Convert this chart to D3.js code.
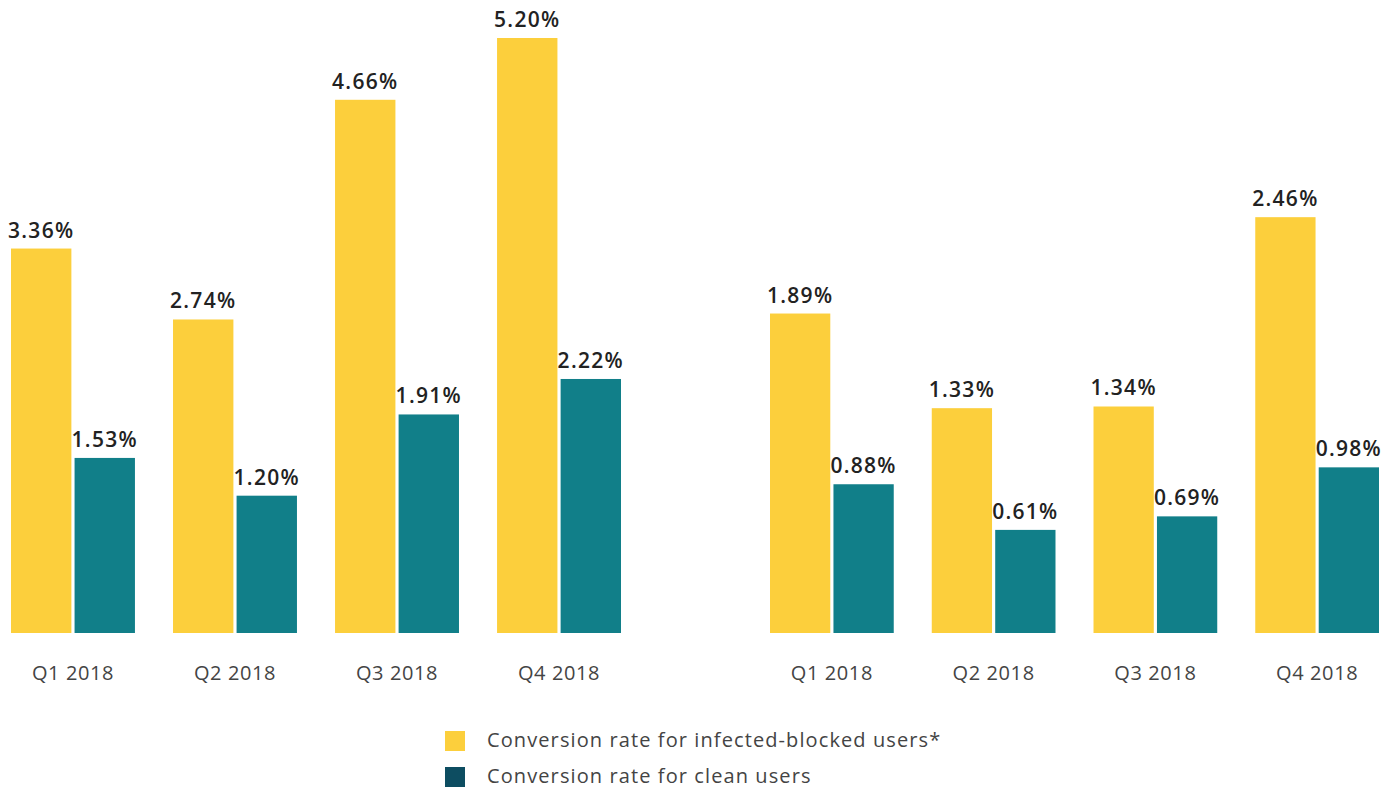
<!DOCTYPE html>
<html>
<head>
<meta charset="utf-8">
<script src="https://cdn.jsdelivr.net/npm/d3@7"></script>
<style>
  body { margin: 0; background: #fff; }
  svg { display: block; font-family: "Open Sans", Lato, sans-serif; }
</style>
</head>
<body>
<svg id="chart" width="1395" height="788"></svg>
<script>
var quarters = ["Q1 2018", "Q2 2018", "Q3 2018", "Q4 2018"];
var seriesNames = ["Conversion rate for infected-blocked users*", "Conversion rate for clean users"];
var leftInfected = [3.36, 2.74, 4.66, 5.20];
var leftClean = [1.53, 1.20, 1.91, 2.22];
var rightInfected = [1.89, 1.33, 1.34, 2.46];
var rightClean = [0.88, 0.61, 0.69, 0.98];

var colors = ["#fccf3c", "#117f89"];
var legendColors = ["#fccf3c", "#0d4d61"];

var svg = d3.select("#chart");

function panel(x0, x1, yMax, infected, clean) {
  var x = d3.scaleBand().domain(quarters).range([x0, x1]).paddingInner(0.235).paddingOuter(0);
  var sub = d3.scaleBand().domain([0, 1]).range([0, x.bandwidth()]).paddingInner(0.05);
  var y = d3.scaleLinear().domain([0, yMax]).range([633, 38]);
  var rows = quarters.map(function(q, i) { return { q: q, vals: [infected[i], clean[i]] }; });

  var g = svg.append("g");
  var grp = g.selectAll("g.grp").data(rows).enter().append("g")
      .attr("transform", function(d) { return "translate(" + x(d.q) + ",0)"; });

  grp.selectAll("rect").data(function(d) { return d.vals; }).enter().append("rect")
      .attr("x", function(d, i) { return sub(i); })
      .attr("width", sub.bandwidth())
      .attr("y", function(d) { return y(d); })
      .attr("height", function(d) { return y(0) - y(d); })
      .attr("fill", function(d, i) { return colors[i]; });

  grp.selectAll("text.val").data(function(d) { return d.vals; }).enter().append("text")
      .attr("class", "val")
      .attr("x", function(d, i) { return sub(i) + sub.bandwidth() / 2; })
      .attr("y", function(d) { return y(d) - 11; })
      .attr("text-anchor", "middle")
      .attr("font-size", 21)
      .attr("font-weight", 600)
      .attr("letter-spacing", 1.3)
      .attr("fill", "#222")
      .text(function(d) { return d.toFixed(2) + "%"; });

  var axis = d3.axisBottom(x).tickSize(0).tickPadding(0);
  var ax = g.append("g").attr("transform", "translate(0,680)").call(axis);
  ax.select(".domain").remove();
  ax.selectAll("text").attr("font-size", 20).attr("fill", "#444")
      .attr("letter-spacing", 0.6)
      .attr("font-family", "'Open Sans', Lato, sans-serif").attr("dy", 0);
}

panel(11, 621, 5.20, leftInfected, leftClean);
panel(770, 1379, 3.52, rightInfected, rightClean);

var leg = svg.append("g").selectAll("g").data(seriesNames).enter().append("g")
    .attr("transform", function(d, i) { return "translate(445," + (731 + i * 36) + ")"; });
leg.append("rect").attr("width", 20).attr("height", 20)
    .attr("fill", function(d, i) { return legendColors[i]; });
leg.append("text").attr("x", 42).attr("y", 16)
    .attr("font-size", 20).attr("letter-spacing", 1.1)
    .attr("fill", "#444").text(function(d) { return d; });
</script>
</body>
</html>
